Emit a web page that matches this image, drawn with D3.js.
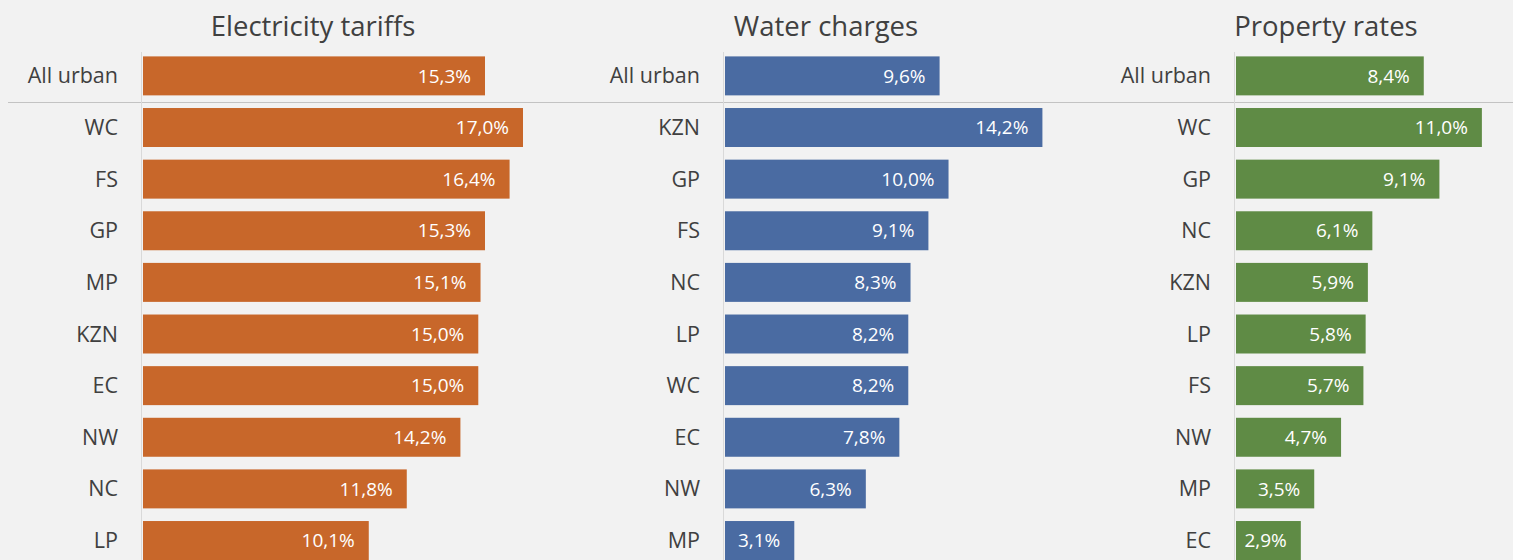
<!DOCTYPE html>
<html>
<head>
    <title>Municipal tariff increases</title>
    <meta charset="utf-8">
    <style>
        body { margin: 0; background: #f2f2f2; }
    </style>
</head>
<body>

<svg id="svg"></svg>
<script src="https://cdn.jsdelivr.net/npm/d3@7"></script>
<script>
    // data
    const electricityCats = ['All urban', 'WC', 'FS', 'GP', 'MP', 'KZN', 'EC', 'NW', 'NC', 'LP']
    const electricityVals = [15.3, 17.0, 16.4, 15.3, 15.1, 15.0, 15.0, 14.2, 11.8, 10.1]

    const waterCats = ['All urban', 'KZN', 'GP', 'FS', 'NC', 'LP', 'WC', 'EC', 'NW', 'MP']
    const waterVals = [9.6, 14.2, 10.0, 9.1, 8.3, 8.2, 8.2, 7.8, 6.3, 3.1]

    const propertyCats = ['All urban', 'WC', 'GP', 'NC', 'KZN', 'LP', 'FS', 'NW', 'MP', 'EC']
    const propertyVals = [8.4, 11.0, 9.1, 6.1, 5.9, 5.8, 5.7, 4.7, 3.5, 2.9]

    const titles = ['Electricity tariffs', 'Water charges', 'Property rates']
    const colors = ['#c8672a', '#4a6ba2', '#5f8b45']

    const WIDTH = 1513
    const HEIGHT = 560
    const FONT = '"Segoe UI", "Open Sans", "Noto Sans", sans-serif'

    const panels = [
        {title: titles[0], cats: electricityCats, vals: electricityVals, color: colors[0], x0: 142, tx: 313},
        {title: titles[1], cats: waterCats, vals: waterVals, color: colors[1], x0: 724, tx: 826},
        {title: titles[2], cats: propertyCats, vals: propertyVals, color: colors[2], x0: 1235, tx: 1326}
    ]

    const svg = d3.select('svg')
        .attr('width', WIDTH)
        .attr('height', HEIGHT)
        .style('display', 'block')
        .style('background', '#f2f2f2')

    // same scale for all three panels
    const x = d3.scaleLinear().domain([0, 17]).range([0, 380])
    const fmt = (v) => d3.format('.1f')(v).replace('.', ',') + '%'

    // divider under the "All urban" row
    svg.append('line')
        .attr('x1', 8).attr('x2', WIDTH)
        .attr('y1', 102.5).attr('y2', 102.5)
        .attr('stroke', '#c3c3c3')
        .attr('stroke-width', 1)

    panels.forEach((p) => {
        const y = d3.scaleBand()
            .domain(p.cats)
            .range([50.2, 566.2])
            .paddingInner(0.245)
            .paddingOuter(0.12)

        const g = svg.append('g')
            .attr('transform', `translate(${p.x0},0)`)

        g.append('text')
            .attr('x', p.tx - p.x0)
            .attr('y', 36)
            .attr('text-anchor', 'middle')
            .attr('font-family', FONT)
            .attr('font-size', 27.5)
            .attr('fill', '#404040')
            .text(p.title)

        // axis line
        g.append('line')
            .attr('x1', -0.5).attr('x2', -0.5)
            .attr('y1', 52).attr('y2', HEIGHT)
            .attr('stroke', '#d9d9d9')

        const rows = g.selectAll('g.row')
            .data(p.cats.map((c, i) => ({cat: c, val: p.vals[i]})))
            .enter().append('g')
            .attr('class', 'row')

        rows.append('rect')
            .attr('x', 1)
            .attr('y', (d) => y(d.cat))
            .attr('width', (d) => x(d.val))
            .attr('height', y.bandwidth())
            .attr('fill', p.color)

        rows.append('text')
            .attr('x', -24)
            .attr('y', (d) => y(d.cat) + y.bandwidth() / 2)
            .attr('dy', '0.35em')
            .attr('text-anchor', 'end')
            .attr('font-family', FONT)
            .attr('font-size', 21.5)
            .attr('fill', '#404040')
            .text((d) => d.cat)

        rows.append('text')
            .attr('x', (d) => x(d.val) - 13)
            .attr('y', (d) => y(d.cat) + y.bandwidth() / 2)
            .attr('dy', '0.35em')
            .attr('text-anchor', 'end')
            .attr('font-family', FONT)
            .attr('font-size', 19)
            .attr('fill', '#ffffff')
            .text((d) => fmt(d.val))
    })
</script>
</body>
</html>
